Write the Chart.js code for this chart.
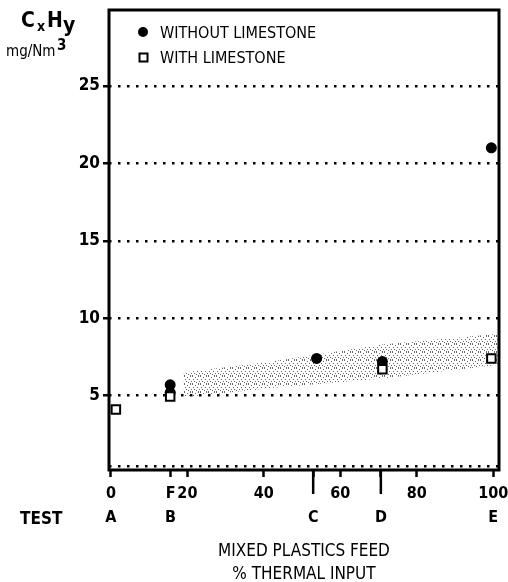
<!DOCTYPE html>
<html lang="en">
<head>
<meta charset="utf-8"/>
<title>CxHy vs mixed plastics feed</title>
<script src="https://cdn.jsdelivr.net/npm/chart.js"></script>
<style>
    html, body { margin: 0; padding: 0; background: #fff; }
    #wrap { width: 508px; height: 582px; }
</style>
</head>
<body>
<div id="wrap"><canvas id="myChart" width="508" height="582"></canvas></div>
<script>
    // values
    var withoutX = [15.5, 15.5, 53.8, 71, 99.5];
    var withoutY = [5.7, 5.2, 7.4, 7.2, 21.0];
    var withX = [1.3, 15.5, 71, 99.5];
    var withY = [4.1, 4.95, 6.7, 7.4];
    // stippled band (scatter of earlier results)
    var bandX = [19, 42, 71, 101.5];
    var bandLow = [4.9, 5.5, 6.1, 7.0];
    var bandHigh = [6.5, 7.2, 8.3, 9.0];

    var xTicks = [0, 15.6, 20, 40, 52.9, 60, 70.6, 80, 100];
    var xTickLabels = [['0', 'A'], ['F', 'B'], ['20', ''], ['40', ''], ['', 'C'],
                       ['60', ''], ['', 'D'], ['80', ''], ['100', 'E']];
    var longTicks = [52.9, 70.6];
    var yTicks = [0.45, 5, 10, 15, 20, 25];
    var yTickLabels = ['', '5', '10', '15', '20', '25'];

    var FONT = '"Liberation Sans Narrow", "DejaVu Sans Condensed", Arial, sans-serif';

    function pts(xs, ys) {
        return xs.map(function (x, i) { return {x: x, y: ys[i]}; });
    }

    // stipple fill for the band
    var pc = document.createElement('canvas');
    pc.width = 8; pc.height = 8;
    var p = pc.getContext('2d');
    p.fillStyle = '#666';
    [[0, 0], [3, 1], [6, 0], [1, 3], [5, 3], [2, 5], [7, 5], [4, 6], [0, 7], [6, 7]].forEach(function (d) {
        p.fillRect(d[0], d[1], 1, 1);
    });
    var stipple = document.getElementById('myChart').getContext('2d').createPattern(pc, 'repeat');

    var extras = {
        id: 'extras',
        afterDraw: function (chart) {
            var c = chart.ctx, a = chart.chartArea, xs = chart.scales.x;
            c.save();
            // frame
            c.strokeStyle = '#000';
            c.lineWidth = 3;
            c.strokeRect(a.left, a.top, a.right - a.left, a.bottom - a.top);
            // long ticks for tests C and D
            c.lineWidth = 2.5;
            longTicks.forEach(function (v) {
                var px = xs.getPixelForValue(v);
                c.beginPath();
                c.moveTo(px, a.bottom);
                c.lineTo(px, a.bottom + 24);
                c.stroke();
            });
            c.fillStyle = '#000';
            c.textBaseline = 'alphabetic';
            // TEST row label
            c.font = 'bold 17px ' + FONT;
            c.textAlign = 'left';
            c.fillText('TEST', 20, 524);
            // y axis title
            c.font = 'bold 21px ' + FONT;
            c.fillText('C', 21, 27);
            c.font = 'bold 14px ' + FONT;
            c.fillText('x', 37, 31);
            c.font = 'bold 21px ' + FONT;
            c.fillText('H', 47, 27);
            c.fillText('y', 63, 32);
            c.font = '15px ' + FONT;
            c.fillText('mg/Nm', 6, 56);
            c.font = 'bold 15px ' + FONT;
            c.fillText('3', 57, 50);
            // legend
            c.beginPath();
            c.arc(143, 32, 5, 0, Math.PI * 2);
            c.fill();
            c.lineWidth = 2;
            c.strokeRect(139.5, 53.5, 8, 8);
            c.font = '16px ' + FONT;
            c.fillText('WITHOUT LIMESTONE', 160, 38);
            c.fillText('WITH LIMESTONE', 160, 63);
            c.restore();
        }
    };

    var mychart = new Chart(document.getElementById('myChart'), {
        type: 'scatter',
        data: {
            datasets: [
                {
                    label: 'band low',
                    data: pts(bandX, bandLow),
                    showLine: true,
                    borderWidth: 0,
                    pointRadius: 0,
                    fill: false,
                    order: 3
                },
                {
                    label: 'band high',
                    data: pts(bandX, bandHigh),
                    showLine: true,
                    borderWidth: 0,
                    pointRadius: 0,
                    backgroundColor: stipple,
                    fill: '-1',
                    order: 2
                },
                {
                    label: 'WITHOUT LIMESTONE',
                    data: pts(withoutX, withoutY),
                    pointStyle: 'circle',
                    pointRadius: 5.5,
                    backgroundColor: '#000',
                    borderColor: '#000',
                    borderWidth: 0,
                    order: 1
                },
                {
                    label: 'WITH LIMESTONE',
                    data: pts(withX, withY),
                    pointStyle: 'rect',
                    pointRadius: 6,
                    backgroundColor: '#fff',
                    borderColor: '#000',
                    borderWidth: 2,
                    order: 0
                }
            ]
        },
        options: {
            responsive: false,
            animation: false,
            layout: { padding: { top: 10, right: 9, left: 0, bottom: 0 } },
            plugins: {
                legend: { display: false },
                tooltip: { enabled: false }
            },
            scales: {
                x: {
                    type: 'linear',
                    min: -0.5,
                    max: 101.5,
                    afterBuildTicks: function (s) {
                        s.ticks = xTicks.map(function (v) { return {value: v}; });
                    },
                    afterFit: function (s) {
                        s.height = 112;
                        s.paddingLeft = 0;
                        s.paddingRight = 0;
                    },
                    ticks: {
                        autoSkip: false,
                        maxRotation: 0,
                        color: '#000',
                        padding: 4,
                        font: { family: FONT, size: 16, weight: 'bold', lineHeight: 1.55 },
                        callback: function (v, i) { return xTickLabels[i]; }
                    },
                    grid: {
                        drawOnChartArea: false,
                        drawTicks: true,
                        tickLength: 7,
                        tickWidth: 2.5,
                        tickColor: '#000'
                    },
                    border: { display: false },
                    title: {
                        display: true,
                        text: ['MIXED PLASTICS FEED', '% THERMAL INPUT'],
                        color: '#000',
                        font: { family: FONT, size: 17, lineHeight: 1.35 },
                        padding: { top: 0, bottom: -4 }
                    }
                },
                y: {
                    type: 'linear',
                    min: 0.2,
                    max: 29.9,
                    afterBuildTicks: function (s) {
                        s.ticks = yTicks.map(function (v) { return {value: v}; });
                    },
                    afterFit: function (s) {
                        s.width = 109;
                        s.paddingTop = 0;
                    },
                    ticks: {
                        color: '#000',
                        padding: 3,
                        font: { family: FONT, size: 17, weight: 'bold' },
                        callback: function (v, i) { return yTickLabels[i]; }
                    },
                    grid: {
                        color: '#000',
                        lineWidth: 2.5,
                        drawTicks: true,
                        tickLength: 6,
                        tickWidth: 2.5,
                        tickColor: function (ctx) { return ctx.tick && ctx.tick.value < 1 ? 'rgba(0,0,0,0)' : '#000'; },
                        tickBorderDash: []
                    },
                    border: { display: false, dash: [2.5, 6.5] }
                }
            }
        },
        plugins: [extras]
    });
</script>
</body>
</html>
